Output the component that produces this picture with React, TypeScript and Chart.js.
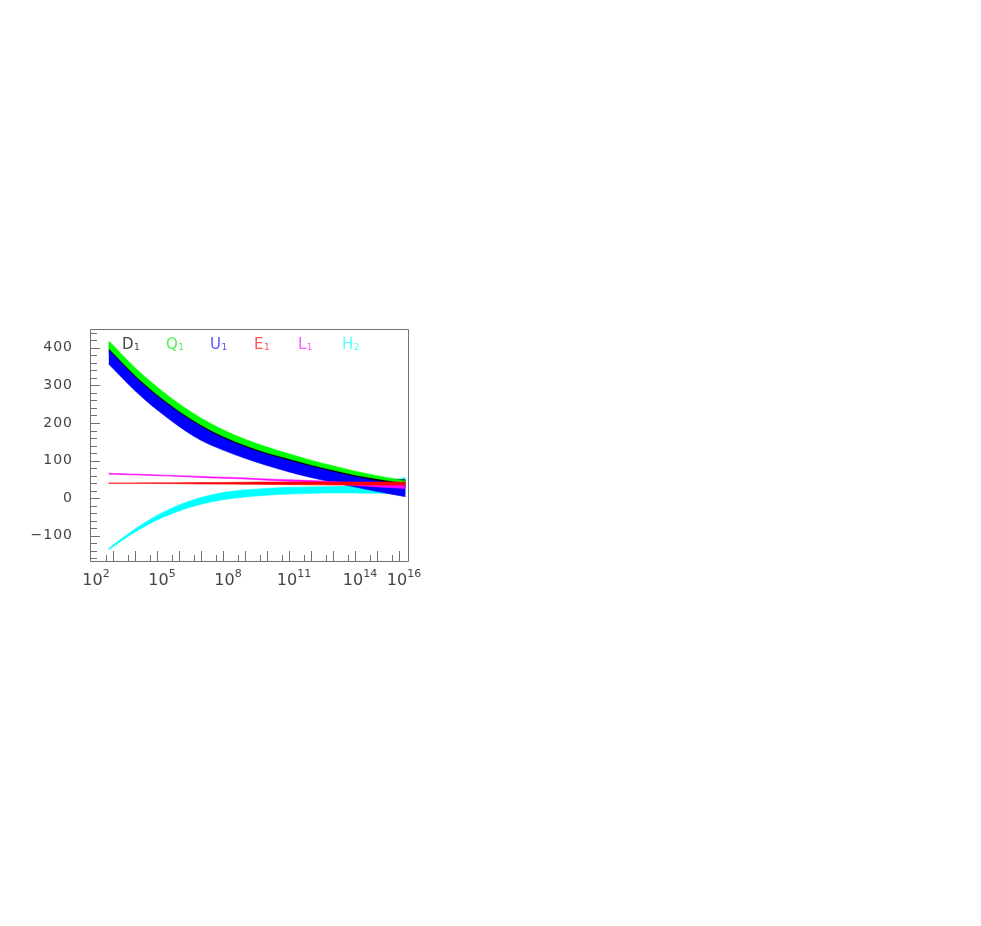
import React, { useEffect, useRef } from 'react';
import { Chart, registerables } from 'chart.js';

Chart.register(...registerables);

// log10 of the scale Q (GeV)
const LOG_Q = [2.8, 4, 5, 6, 7, 8, 9, 10, 11, 12, 13, 14, 15, 16.3];

const D1_HI = [411, 339, 288, 243, 205, 174, 149, 128, 110, 93, 78, 64, 54, 49];
const D1_LO = [386, 314, 263, 219, 182, 152, 128, 108, 92, 76, 62, 49, 38, 30];
const Q1_HI = [419, 347, 296, 251, 213, 182, 157, 136, 118, 101, 86, 72, 60, 46];
const Q1_LO = [399, 327, 276, 232, 195, 165, 141, 121, 105, 89, 75, 62, 52, 40];
const U1_HI = [394, 322, 271, 227, 190, 160, 136, 116, 100, 84, 70, 57, 46, 34];
const U1_LO = [357, 286, 235, 191, 154, 128, 106, 87, 70, 55, 42, 30, 18, 4];
const E1_HI = [40.5, 40.5, 41, 41, 41.5, 42, 42.5, 43, 43, 43, 43, 43, 43, 43];
const E1_LO = [39.5, 39.5, 39, 38.5, 38, 37.5, 37, 36.5, 36, 35.5, 35, 35, 35, 35];
const L1_HI = [66, 64, 62, 60, 58, 56, 54, 51, 49, 47, 44, 41, 38, 36];
const L1_LO = [64, 62, 60, 58, 55, 53, 51, 48, 45, 42, 38, 34, 30, 26];
const H2_HI = [-134, -82, -46, -18, 2, 15, 22, 26, 29, 30, 31, 34, 40, 55];
const H2_LO = [-137, -90, -58, -34, -16, -4, 3, 8, 11, 13, 14, 14, 13, 11];

const SERIES_NAMES = ['D', 'Q', 'U', 'E', 'L', 'H'];
const SERIES_SUBS = ['1', '1', '1', '1', '1', '2'];
const SERIES_COLORS = ['#000000', '#00ff00', '#0000ff', '#ff0000', '#ff00ff', '#00ffff'];
const LEGEND_COLORS = ['#444444', '#55ee55', '#5555ff', '#ff5555', '#ff55ff', '#55ffff'];

const Y_TICKS = [-100, 0, 100, 200, 300, 400];
const X_TICK_EXPONENTS = [2, 5, 8, 11, 14, 16];

const toPoints = (vals: number[]) => LOG_Q.map((lq, i) => ({ x: Math.pow(10, lq), y: vals[i] }));

const spacingPlugin = {
  id: 'spacing',
  beforeDraw(chart: any) {
    chart.ctx.letterSpacing = '1px';
  },
};

const frameTicksPlugin = {
  id: 'frameTicks',
  afterDatasetsDraw(chart: any) {
    const { ctx, chartArea: a, scales } = chart;
    const x = scales.x;
    const y = scales.y;
    ctx.save();
    ctx.strokeStyle = '#707070';
    ctx.lineWidth = 1;
    ctx.beginPath();
    ctx.moveTo(a.left - 0.5, a.top + 0.5);
    ctx.lineTo(a.right - 0.5, a.top + 0.5);
    ctx.lineTo(a.right - 0.5, a.bottom + 0.5);
    ctx.lineTo(a.left - 0.5, a.bottom + 0.5);
    ctx.closePath();
    ctx.stroke();
    ctx.beginPath();
    for (let v = -160; v <= 440; v += 20) {
      const py = Math.round(y.getPixelForValue(v)) + 0.5;
      if (py < a.top || py > a.bottom) continue;
      const len = v % 100 === 0 ? 9 : 6;
      ctx.moveTo(a.left, py);
      ctx.lineTo(a.left + len, py);
    }
    for (let n = 2; n <= 16; n++) {
      [1, 5].forEach((m) => {
        const val = m * Math.pow(10, n);
        if (val <= x.min || val >= x.max) return;
        const px = Math.round(x.getPixelForValue(val)) + 0.5;
        const len = m === 1 ? 10 : 6;
        ctx.moveTo(px, a.bottom);
        ctx.lineTo(px, a.bottom - len);
      });
    }
    ctx.stroke();
    ctx.restore();
  },
};

// x labels "10^n" drawn at the scale's own tick positions with a raised exponent
const xLabelPlugin = {
  id: 'xLabels',
  afterDraw(chart: any) {
    const { ctx, chartArea: a, scales } = chart;
    const x = scales.x;
    ctx.save();
    ctx.letterSpacing = '0px';
    ctx.fillStyle = '#444444';
    ctx.textBaseline = 'alphabetic';
    ctx.textAlign = 'left';
    const baseFont = '16px "DejaVu Sans"';
    const expFont = '11px "DejaVu Sans"';
    x.ticks.forEach((t: any) => {
      const exp = String(Math.round(Math.log10(t.value)));
      ctx.font = baseFont;
      const wb = ctx.measureText('10').width;
      ctx.font = expFont;
      const we = ctx.measureText(exp).width;
      const px = x.getPixelForValue(t.value);
      const start = px + 5 - (wb + we) / 2;
      const baseY = a.bottom + 24;
      ctx.font = baseFont;
      ctx.fillText('10', start, baseY);
      ctx.font = expFont;
      ctx.fillText(exp, start + wb, baseY - 8);
    });
    ctx.restore();
  },
};

const legendPlugin = {
  id: 'textLegend',
  afterDraw(chart: any) {
    const { ctx, chartArea: a } = chart;
    ctx.save();
    ctx.letterSpacing = '0px';
    ctx.textAlign = 'left';
    ctx.textBaseline = 'alphabetic';
    SERIES_NAMES.forEach((name, i) => {
      const x0 = a.left + 31 + i * 44;
      const yb = a.top + 20;
      ctx.fillStyle = LEGEND_COLORS[i];
      ctx.font = '15px "DejaVu Sans"';
      ctx.fillText(name, x0, yb);
      const w = ctx.measureText(name).width;
      ctx.font = '9px "DejaVu Sans"';
      ctx.fillText(SERIES_SUBS[i], x0 + w + 0.5, yb + 1);
    });
    ctx.restore();
  },
};

export default function App() {
  const ref = useRef<HTMLCanvasElement | null>(null);

  useEffect(() => {
    if (!ref.current) return;
    // drawing order: H2 bottom, then D1, Q1, U1, L1, E1 on top
    const bands = [
      { hi: E1_HI, lo: E1_LO, color: SERIES_COLORS[3], order: 1, name: 'E1' },
      { hi: L1_HI, lo: L1_LO, color: SERIES_COLORS[4], order: 2, name: 'L1' },
      { hi: U1_HI, lo: U1_LO, color: SERIES_COLORS[2], order: 3, name: 'U1' },
      { hi: Q1_HI, lo: Q1_LO, color: SERIES_COLORS[1], order: 4, name: 'Q1' },
      { hi: D1_HI, lo: D1_LO, color: SERIES_COLORS[0], order: 5, name: 'D1' },
      { hi: H2_HI, lo: H2_LO, color: SERIES_COLORS[5], order: 6, name: 'H2' },
    ];
    const datasets: any[] = [];
    bands.forEach((b) => {
      const loIndex = datasets.length;
      datasets.push({
        label: b.name + ' low',
        data: toPoints(b.lo),
        borderColor: b.color,
        backgroundColor: b.color,
        borderWidth: 0.6,
        pointRadius: 0,
        cubicInterpolationMode: 'monotone',
        fill: false,
        order: b.order,
      });
      datasets.push({
        label: b.name + ' high',
        data: toPoints(b.hi),
        borderColor: b.color,
        backgroundColor: b.color,
        borderWidth: 0.6,
        pointRadius: 0,
        cubicInterpolationMode: 'monotone',
        fill: { target: loIndex },
        order: b.order,
      });
    });

    const chart = new Chart(ref.current, {
      type: 'line',
      data: { datasets },
      plugins: [spacingPlugin, frameTicksPlugin, xLabelPlugin, legendPlugin],
      options: {
        animation: false,
        responsive: false,
        maintainAspectRatio: false,
        layout: { padding: { left: 0, right: 41, top: 29, bottom: 0 } },
        plugins: {
          legend: { display: false },
          tooltip: { enabled: false },
          filler: { propagate: false },
        },
        scales: {
          x: {
            type: 'logarithmic',
            min: 100,
            max: Math.pow(10, 16.4545),
            grid: { display: false, drawTicks: false },
            border: { display: false },
            afterBuildTicks: (scale: any) => {
              scale.ticks = X_TICK_EXPONENTS.map((e) => ({ value: Math.pow(10, e) }));
            },
            afterFit: (scale: any) => {
              scale.height = 39;
            },
            ticks: { display: false, autoSkip: false, maxRotation: 0 },
          },
          y: {
            type: 'linear',
            min: -167,
            max: 450,
            grid: { display: false, drawTicks: false },
            border: { display: false },
            afterBuildTicks: (scale: any) => {
              scale.ticks = Y_TICKS.map((v) => ({ value: v }));
            },
            afterFit: (scale: any) => {
              scale.width = 91;
            },
            ticks: {
              padding: 18,
              color: '#444444',
              font: { family: '"DejaVu Sans"', size: 14 },
              callback: (value: any) => {
                const v = Number(value);
                return v < 0 ? '\u2212' + String(-v) : String(v);
              },
            },
          },
        },
      },
    });
    return () => chart.destroy();
  }, []);

  return (
    <div style={{ position: 'absolute', left: 0, top: 300, width: 450, height: 300 }}>
      <canvas ref={ref} width={450} height={300} />
    </div>
  );
}
